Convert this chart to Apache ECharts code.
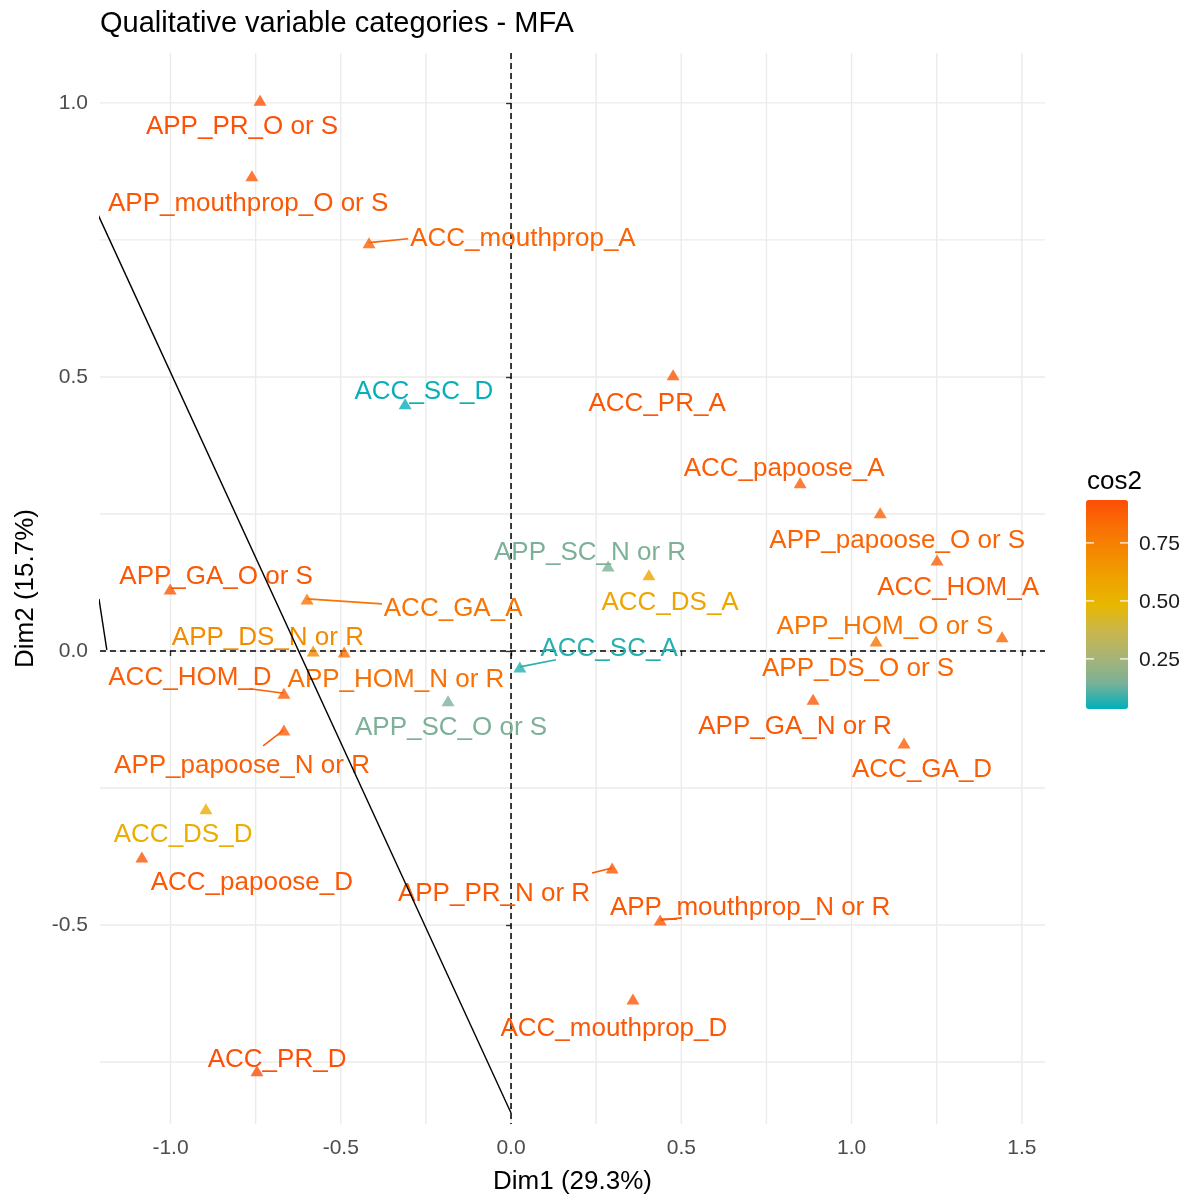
<!DOCTYPE html>
<html>
<head>
<meta charset="utf-8">
<title>Qualitative variable categories - MFA</title>
<script src="https://cdn.jsdelivr.net/npm/echarts@6/dist/echarts.min.js"></script>
<style>
html,body{margin:0;padding:0;background:#fff;}
#chart_main{width:1190px;height:1196px;}
</style>
</head>
<body>
<div id="chart_main"></div>
<script type="text/javascript">
// categories of the qualitative variables
var names = ['APP_PR_O or S','APP_mouthprop_O or S','ACC_mouthprop_A','ACC_SC_D','ACC_PR_A','ACC_papoose_A','APP_papoose_O or S',
	'ACC_HOM_A','APP_SC_N or R','ACC_DS_A','APP_GA_O or S','ACC_GA_A','APP_DS_N or R','APP_HOM_N or R','ACC_HOM_D',
	'APP_SC_O or S','ACC_SC_A','APP_HOM_O or S','APP_DS_O or S','APP_GA_N or R','ACC_GA_D','APP_papoose_N or R',
	'ACC_DS_D','ACC_papoose_D','APP_PR_N or R','APP_mouthprop_N or R','ACC_mouthprop_D','ACC_PR_D'];
var dim1 = [-0.737,-0.761,-0.417,-0.311,0.476,0.849,1.084,1.251,0.285,0.405,-1.001,-0.599,-0.581,-0.490,-0.667,
	-0.185,0.026,1.072,1.442,0.887,1.154,-0.667,-0.896,-1.084,0.297,0.438,0.358,-0.746];
var dim2 = [1.005,0.867,0.745,0.451,0.504,0.307,0.252,0.166,0.155,0.139,0.113,0.095,0.000,-0.002,-0.077,
	-0.091,-0.029,0.018,0.026,-0.088,-0.168,-0.144,-0.288,-0.376,-0.396,-0.491,-0.635,-0.766];
var cos2 = [0.92,0.90,0.86,0.04,0.90,0.88,0.86,0.88,0.15,0.58,0.90,0.80,0.70,0.82,0.88,
	0.15,0.07,0.80,0.85,0.90,0.88,0.88,0.54,0.90,0.90,0.90,0.90,0.93];
// repelled label positions (data units)
var labelX = [-0.790,-0.772,0.035,-0.256,0.429,0.802,1.134,1.313,0.232,0.467,-0.866,-0.170,-0.714,-0.338,-0.943,
	-0.176,0.288,1.098,1.019,0.834,1.207,-0.790,-0.963,-0.761,-0.050,0.702,0.302,-0.687];
var labelY = [0.960,0.819,0.755,0.476,0.454,0.336,0.204,0.119,0.182,0.091,0.139,0.080,0.027,-0.049,-0.046,
	-0.137,0.007,0.047,-0.029,-0.135,-0.214,-0.206,-0.332,-0.420,-0.440,-0.465,-0.686,-0.743];
// end of the label connector segment, null when there is none
var segX = [null,null,-0.302,null,null,null,null,null,null,null,null,-0.379,null,null,-0.767,
	null,0.132,null,null,null,null,-0.728,null,null,0.238,0.502,null,null];
var segY = [null,null,0.752,null,null,null,null,null,null,null,null,0.086,null,null,-0.069,
	null,-0.016,null,null,null,null,-0.173,null,null,-0.405,-0.487,null,null];

// axes
var xRange = [-1.207, 1.568];
var yRange = [-0.863, 1.091];
var xTicks = [-1, -0.5, 0, 0.5, 1, 1.5];
var yTicks = [-0.5, 0, 0.5, 1];
var xGrid = [-1, -0.75, -0.5, -0.25, 0, 0.25, 0.5, 0.75, 1, 1.25, 1.5];
var yGrid = [-0.75, -0.5, -0.25, 0, 0.25, 0.5, 0.75, 1];
var refX = 0, refY = 0;

// black line pieces
var lineA = [[-1.212, 0.795], [0, -0.843]];
var lineB = [[-1.210, 0.095], [-1.187, 0.002]];

// colour scale (teal - yellow - orange, stops interpolated in Lab like ggplot)
var cos2Range = [0.034, 0.935];
var cos2Ticks = [0.25, 0.5, 0.75];
var cos2Colors = ['#00AFBB', '#7BB198', '#A8B474', '#CAB64C', '#E7B800', '#EEA200', '#F48901', '#F96F04', '#FC4E07'];

var FONT = '"Liberation Sans", Arial, Helvetica, sans-serif';
var bar = {left: 1086, top: 500, width: 42, height: 209};

var points = [], labels = [], segs = [];
for (var i = 0; i < names.length; i++) {
	points.push([dim1[i], dim2[i], cos2[i]]);
	labels.push([labelX[i], labelY[i], cos2[i]]);
	if (segX[i] !== null) segs.push([dim1[i], dim2[i], cos2[i], segX[i], segY[i]]);
}

function gridItem(vertical) {
	return function(params, api) {
		var cs = params.coordSys;
		if (vertical) {
			var x = api.coord([api.value(0), 0])[0];
			return {type: 'line', shape: {x1: x, y1: cs.y, x2: x, y2: cs.y + cs.height},
				style: {stroke: '#EBEBEB', lineWidth: 1.4}};
		}
		var y = api.coord([0, api.value(1)])[1];
		return {type: 'line', shape: {x1: cs.x, y1: y, x2: cs.x + cs.width, y2: y},
			style: {stroke: '#EBEBEB', lineWidth: 1.4}};
	};
}

// legend ticks + labels
var legendGraphics = [{
	type: 'text', left: 1087, top: 469,
	style: {text: 'cos2', fontSize: 26, fontFamily: FONT, fill: '#000'}
}];
cos2Ticks.forEach(function(v) {
	var y = bar.top + bar.height - (v - cos2Range[0]) / (cos2Range[1] - cos2Range[0]) * bar.height;
	legendGraphics.push({type: 'line', shape: {x1: bar.left, y1: y, x2: bar.left + 8, y2: y}, style: {stroke: '#fff', lineWidth: 1.2}, z: 100});
	legendGraphics.push({type: 'line', shape: {x1: bar.left + bar.width - 8, y1: y, x2: bar.left + bar.width, y2: y}, style: {stroke: '#fff', lineWidth: 1.2}, z: 100});
	legendGraphics.push({type: 'text', x: bar.left + bar.width + 11, y: y + 1,
		style: {text: v.toFixed(2), fontSize: 21, fontFamily: FONT, fill: '#1A1A1A', verticalAlign: 'middle', align: 'left'}, z: 100});
});

var myChart = echarts.init(document.getElementById('chart_main'));
var option = {
	animation: false,
	backgroundColor: '#fff',
	title: {
		text: 'Qualitative variable categories - MFA', left: 100, top: 9, padding: 0,
		textStyle: {fontSize: 29, fontWeight: 'normal', color: '#000', fontFamily: FONT}
	},
	grid: {left: 100, right: 145, top: 53, bottom: 72, containLabel: false, outerBoundsMode: 'none'},
	xAxis: {
		type: 'value', min: xRange[0], max: xRange[1],
		name: 'Dim1 (29.3%)', nameLocation: 'middle', nameGap: 45,
		nameTextStyle: {fontSize: 26, color: '#000', fontFamily: FONT},
		axisLine: {show: false},
		axisTick: {show: true, customValues: xTicks, length: 5, lineStyle: {color: '#333', width: 1.4}},
		axisLabel: {customValues: xTicks, margin: 14, fontSize: 21, color: '#4D4D4D', fontFamily: FONT,
			formatter: function(v){ return v.toFixed(1); }},
		splitLine: {show: false}
	},
	yAxis: {
		type: 'value', min: yRange[0], max: yRange[1],
		name: 'Dim2 (15.7%)', nameLocation: 'middle', nameGap: 61,
		nameTextStyle: {fontSize: 26, color: '#000', fontFamily: FONT},
		axisLine: {show: false},
		axisTick: {show: true, customValues: yTicks, length: 5, lineStyle: {color: '#333', width: 1.4}},
		axisLabel: {customValues: yTicks, margin: 12, fontSize: 21, color: '#4D4D4D', fontFamily: FONT,
			padding: [4, 0, 0, 0],
			formatter: function(v){ return v.toFixed(1); }},
		splitLine: {show: false}
	},
	visualMap: {
		type: 'continuous', min: cos2Range[0], max: cos2Range[1], dimension: 2,
		seriesIndex: [4, 5, 6], inRange: {color: cos2Colors},
		orient: 'vertical', left: bar.left, top: bar.top, padding: 0,
		itemWidth: bar.width, itemHeight: bar.height, text: ['', ''], textGap: 0,
		calculable: false, hoverLink: false, realtime: false
	},
	graphic: legendGraphics,
	series: [
		{type: 'custom', z: 0, silent: true, data: xGrid.map(function(v){ return [v, 0]; }), renderItem: gridItem(true)},
		{type: 'custom', z: 0, silent: true, data: yGrid.map(function(v){ return [0, v]; }), renderItem: gridItem(false)},
		// reference lines at 0
		{type: 'custom', z: 1, silent: true, data: [[refX, refY]],
			renderItem: function(params, api) {
				var cs = params.coordSys;
				var p = api.coord([api.value(0), api.value(1)]);
				var st = {stroke: '#000', lineWidth: 1.5, lineDash: [6, 4]};
				return {type: 'group', children: [
					{type: 'line', shape: {x1: p[0], y1: cs.y, x2: p[0], y2: cs.y + cs.height}, style: st},
					{type: 'line', shape: {x1: cs.x, y1: p[1], x2: cs.x + cs.width, y2: p[1]}, style: st}
				]};
			}},
		{type: 'custom', z: 1, silent: true, data: [], renderItem: function(){ return null; }},
		// connector segments
		{type: 'custom', z: 3, silent: true, data: segs, encode: {x: [0, 3], y: [1, 4]},
			renderItem: function(params, api) {
				var a = api.coord([api.value(0), api.value(1)]);
				var b = api.coord([api.value(3), api.value(4)]);
				return {type: 'line', shape: {x1: a[0], y1: a[1], x2: b[0], y2: b[1]},
					style: {stroke: api.visual('color'), lineWidth: 1.6}};
			}},
		// points
		{type: 'scatter', z: 4, silent: true, symbol: 'triangle', symbolSize: [13, 11], data: points},
		// labels
		{type: 'custom', z: 5, silent: true, data: labels,
			renderItem: function(params, api) {
				var p = api.coord([api.value(0), api.value(1)]);
				return {type: 'text', x: p[0], y: p[1] + 2,
					style: {text: names[params.dataIndex], fill: api.visual('color'), fontSize: 26,
						fontFamily: FONT, align: 'center', verticalAlign: 'middle'}};
			}},
		{type: 'line', z: 6, silent: true, symbol: 'none', data: lineA, clip: true, lineStyle: {color: '#000', width: 1.4}},
		{type: 'line', z: 6, silent: true, symbol: 'none', data: lineB, clip: true, lineStyle: {color: '#000', width: 1.4}}
	]
};
myChart.setOption(option);
</script>
</body>
</html>
